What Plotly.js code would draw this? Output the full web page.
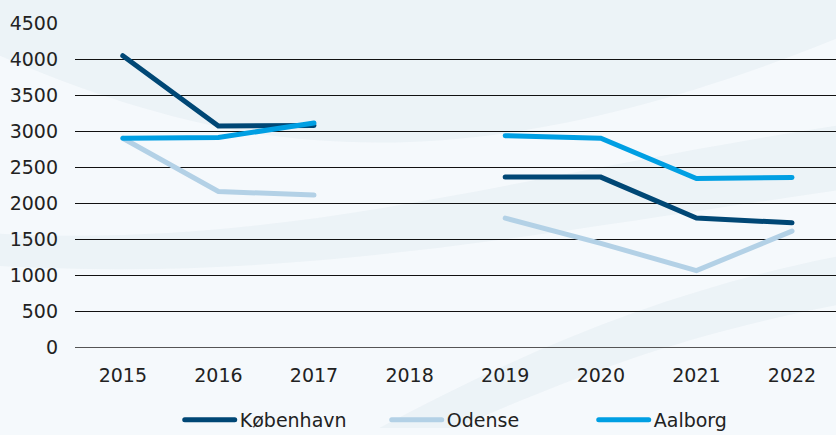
<!DOCTYPE html>
<html>
<head>
<meta charset="utf-8">
<script src="https://cdn.plot.ly/plotly-3.0.1.min.js"></script>
<style>
html,body{margin:0;padding:0;background:#f5f9fc;}
#chart{width:836px;height:435px;}
.scatterlayer path.js-line, .legend path.js-line{stroke-linecap:round;}
</style>
</head>
<body>
<div id="chart"></div>
<script>
const years = ['2015','2016','2017','2018','2019','2020','2021','2022'];
const kobenhavn = [4045, 3070, 3075, null, 2360, 2360, 1790, 1725];
const odense    = [2900, 2160, 2110, null, 1790, 1440, 1060, 1610];
const aalborg   = [2900, 2910, 3110, null, 2935, 2900, 2340, 2355];
const yTicks = [0,500,1000,1500,2000,2500,3000,3500,4000,4500];

const mk = (name, y, color) => ({
  type: 'scatter', mode: 'lines', name: name, x: years, y: y,
  connectgaps: false,
  line: {color: color, width: 5, shape: 'linear'},
  hoverinfo: 'x+y+name'
});

const data = [
  mk('København', kobenhavn, '#004775'),
  mk('Odense', odense, '#b3d1e6'),
  mk('Aalborg', aalborg, '#009fe3')
];

const wave = 'rgba(214,230,236,0.3)';
const FONT = '"DejaVu Sans", sans-serif';
const layout = {
  width: 836, height: 435,
  margin: {l: 75, r: 0, t: 23, b: 88, autoexpand: false},
  paper_bgcolor: '#f5f9fc',
  plot_bgcolor: 'rgba(0,0,0,0)',
  font: {family: FONT, size: 19, color: '#222'},
  showlegend: true,
  legend: {orientation: 'h', xref: 'container', x: 0.215, xanchor: 'left', yref: 'container', y: 0.035, yanchor: 'middle',
           entrywidth: 142, entrywidthmode: 'pixels',
           font: {family: FONT, size: 19, color: '#222'}, itemwidth: 50, bgcolor: 'rgba(0,0,0,0)', traceorder: 'normal'},
  xaxis: {type: 'category', range: [-0.5, 7.46], showgrid: false, zeroline: false,
          showline: false, ticks: '', ticklabelstandoff: 15, tickfont: {family: FONT, size: 19, color: '#222'}, fixedrange: true},
  yaxis: {range: [0, 4500], tickvals: yTicks, showgrid: true, gridcolor: '#111', gridwidth: 1,
          zeroline: true, zerolinecolor: '#555', zerolinewidth: 1, showline: false, ticks: '',
          ticklabelstandoff: 16, tickfont: {family: FONT, size: 19, color: '#222'}, fixedrange: true},
  shapes: [
    {type: 'path', xref: 'paper', yref: 'paper', layer: 'below', line: {width: 0}, fillcolor: wave,
     path: 'M -0.1 0.9 C 0.2 0.6, 0.5 0.45, 1.05 1.0 L 1.05 1.1 L -0.1 1.1 Z'},
    {type: 'path', xref: 'paper', yref: 'paper', layer: 'below', line: {width: 0}, fillcolor: wave,
     path: 'M -0.1 0.35 C 0.3 0.3, 0.6 0.55, 1.05 0.7 L 1.05 0.5 C 0.6 0.35, 0.3 0.2, -0.1 0.25 Z'},
    {type: 'path', xref: 'paper', yref: 'paper', layer: 'below', line: {width: 0}, fillcolor: wave,
     path: 'M 0.4 -0.25 C 0.6 0.0, 0.8 0.2, 1.05 0.3 L 1.05 0.15 C 0.8 0.05, 0.65 -0.1, 0.5 -0.25 Z'}
  ]
};

Plotly.newPlot('chart', data, layout, {displayModeBar: false, staticPlot: true});
</script>
</body>
</html>
